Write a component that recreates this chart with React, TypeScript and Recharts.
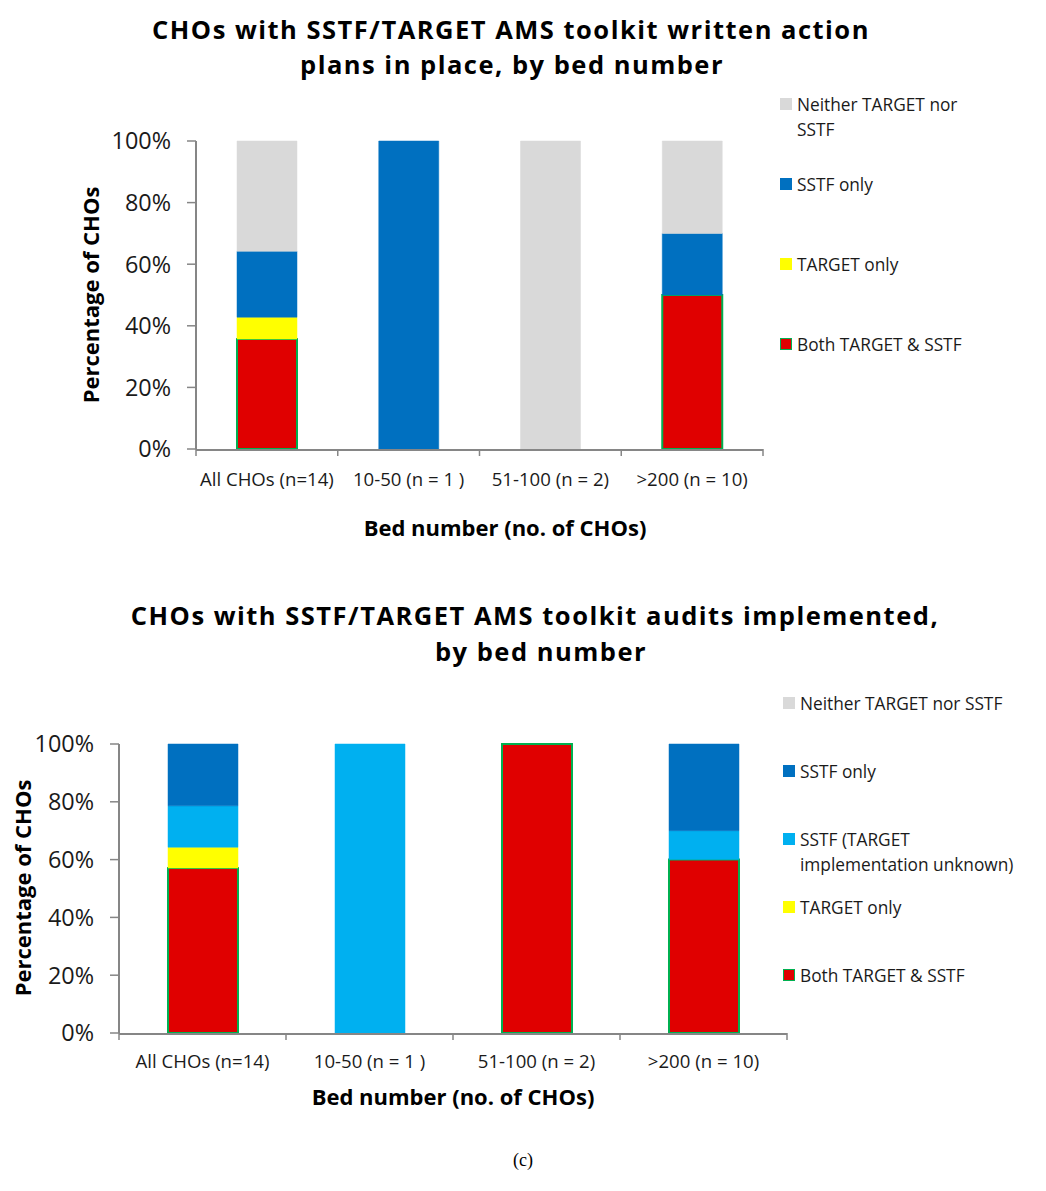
import React from 'react';
import { BarChart, Bar, XAxis, YAxis } from 'recharts';

const categories = ['All CHOs (n=14)', '10-50 (n = 1 )', '51-100 (n = 2)', '>200 (n = 10)'];
const yTicks = [0, 20, 40, 60, 80, 100];
const edgeTicks = [0, 1, 2, 3, 4];

// Chart 1: written action plans
const plansBoth = [35.7, 0, 0, 50];
const plansTargetOnly = [7.1, 0, 0, 0];
const plansSstfOnly = [21.4, 100, 0, 20];
const plansNeither = [35.8, 0, 100, 30];

// Chart 2: audits implemented
const auditsBoth = [57.1, 0, 100, 60];
const auditsTargetOnly = [7.2, 0, 0, 0];
const auditsSstfUnknown = [14.3, 100, 0, 10];
const auditsSstfOnly = [21.4, 0, 0, 30];
const auditsNeither = [0, 0, 0, 0];

const GRAY = '#D9D9D9';
const BLUE = '#0070C0';
const YELLOW = '#FFFF00';
const RED = '#E00000';
const LIGHTBLUE = '#00B0F0';
const GREEN = '#00B050';
const AXIS = '#868686';
const FONT = '"Open Sans", Lato, sans-serif';

type Series = { key: string; name: string; legend: string; color: string; stroke?: string };

const plansSeries: Series[] = [
  { key: 'both', name: 'Both TARGET & SSTF', legend: 'Both TARGET & SSTF', color: RED, stroke: GREEN },
  { key: 'target', name: 'TARGET only', legend: 'TARGET only', color: YELLOW },
  { key: 'sstf', name: 'SSTF only', legend: 'SSTF only', color: BLUE },
  { key: 'neither', name: 'Neither TARGET nor SSTF', legend: 'Neither TARGET nor\nSSTF', color: GRAY },
];

const auditsSeries: Series[] = [
  { key: 'both', name: 'Both TARGET & SSTF', legend: 'Both TARGET & SSTF', color: RED, stroke: GREEN },
  { key: 'target', name: 'TARGET only', legend: 'TARGET only', color: YELLOW },
  { key: 'unknown', name: 'SSTF (TARGET implementation unknown)', legend: 'SSTF (TARGET\nimplementation unknown)', color: LIGHTBLUE },
  { key: 'sstf', name: 'SSTF only', legend: 'SSTF only', color: BLUE },
  { key: 'neither', name: 'Neither TARGET nor SSTF', legend: 'Neither TARGET nor SSTF', color: GRAY },
];

const plansData = categories.map((c, i) => ({
  cat: c,
  idx: i + 0.5,
  both: plansBoth[i],
  target: plansTargetOnly[i],
  sstf: plansSstfOnly[i],
  neither: plansNeither[i],
}));

const auditsData = categories.map((c, i) => ({
  cat: c,
  idx: i + 0.5,
  both: auditsBoth[i],
  target: auditsTargetOnly[i],
  unknown: auditsSstfUnknown[i],
  sstf: auditsSstfOnly[i],
  neither: auditsNeither[i],
}));

type ChartProps = {
  data: any[];
  series: Series[];
  top: number;
  width: number;
  height: number;
  margin: { top: number; right: number; left: number; bottom: number };
  barSize: number;
  tickMargin: number;
};

const EmptyTick = () => <g />;

const StackChart = ({ data, series, top, width, height, margin, barSize, tickMargin }: ChartProps) => (
  <div style={{ position: 'absolute', left: 0, top, width, height }}>
    <BarChart width={width} height={height} data={data} margin={margin}>
      <XAxis
        xAxisId="b_cat"
        dataKey="cat"
        height={40}
        tickLine={false}
        axisLine={{ stroke: AXIS, strokeWidth: 2 }}
        tickMargin={tickMargin}
        interval={0}
        tick={{ fill: '#1a1a1a', fontSize: 18.6, fontFamily: FONT }}
      />
      <XAxis
        xAxisId="a_edge"
        type="number"
        dataKey="idx"
        domain={[0, categories.length]}
        ticks={edgeTicks}
        allowDataOverflow
        height={1}
        tick={EmptyTick}
        axisLine={false}
        tickLine={{ stroke: AXIS, strokeWidth: 1.5 }}
        tickSize={7}
        interval={0}
      />
      <YAxis
        width={60}
        domain={[0, 100]}
        ticks={yTicks}
        tickFormatter={(v: number) => `${v}%`}
        axisLine={{ stroke: AXIS, strokeWidth: 2 }}
        tickLine={{ stroke: AXIS, strokeWidth: 1.5 }}
        tickSize={9}
        tickMargin={16}
        tick={{ fill: '#1a1a1a', fontSize: 23.4, fontFamily: FONT }}
      />
      {series.map((s) => (
        <Bar
          key={s.key}
          xAxisId="b_cat"
          dataKey={s.key}
          name={s.name}
          stackId="a"
          fill={s.color}
          stroke={s.stroke || s.color}
          strokeWidth={s.stroke ? 2 : 0.5}
          barSize={barSize}
          isAnimationActive={false}
        />
      ))}
    </BarChart>
  </div>
);

const LegendBlock = ({ series, left, top, spacing }: { series: Series[]; left: number; top: number; spacing: number }) => {
  const items = [...series].reverse();
  return (
    <div style={{ position: 'absolute', left, top, fontFamily: FONT, fontSize: 17.3, color: '#1a1a1a' }}>
      {items.map((s, i) => (
        <div key={s.key} style={{ position: 'absolute', left: 0, top: i * spacing, display: 'flex', alignItems: 'flex-start', whiteSpace: 'pre' }}>
          <div
            style={{
              width: s.stroke ? 10 : 12,
              height: s.stroke ? 10 : 12,
              marginTop: 6,
              background: s.color,
              border: s.stroke ? `1.5px solid ${s.stroke}` : 'none',
              marginRight: 5,
              flex: 'none',
            }}
          />
          <div style={{ lineHeight: '25px' }}>{s.legend}</div>
        </div>
      ))}
    </div>
  );
};

const Centered = ({ x, y, children, style }: { x: number; y: number; children: React.ReactNode; style?: React.CSSProperties }) => (
  <div style={{ position: 'absolute', left: x, top: y, transform: 'translate(-50%, -50%)', whiteSpace: 'nowrap', ...style }}>
    {children}
  </div>
);

const titleStyle: React.CSSProperties = {
  fontFamily: FONT,
  fontWeight: 700,
  fontSize: 25.5,
  letterSpacing: 1.5,
  color: '#000',
  lineHeight: 1,
};
const axisTitleStyle: React.CSSProperties = { fontFamily: FONT, fontWeight: 700, fontSize: 22, color: '#000', lineHeight: 1 };

export default function App() {
  return (
    <div style={{ position: 'absolute', left: 0, top: 0, width: 1046, height: 1191, background: '#fff', overflow: 'hidden' }}>
      {/* Chart 1 */}
      <Centered x={511} y={30} style={titleStyle}>CHOs with SSTF/TARGET AMS toolkit written action</Centered>
      <Centered x={512} y={65} style={titleStyle}>plans in place, by bed number</Centered>
      <StackChart
        data={plansData}
        series={plansSeries}
        top={0}
        width={1046}
        height={560}
        margin={{ top: 141, right: 283, left: 136, bottom: 70 }}
        barSize={60}
        tickMargin={17}
      />
      <Centered x={90} y={295} style={{ ...axisTitleStyle, transform: 'translate(-50%, -50%) rotate(-90deg)' }}>Percentage of CHOs</Centered>
      <Centered x={505} y={527} style={axisTitleStyle}>Bed number (no. of CHOs)</Centered>
      <LegendBlock series={plansSeries} left={780} top={92} spacing={80} />

      {/* Chart 2 */}
      <Centered x={535} y={616} style={titleStyle}>CHOs with SSTF/TARGET AMS toolkit audits implemented,</Centered>
      <Centered x={541} y={652} style={titleStyle}>by bed number</Centered>
      <StackChart
        data={auditsData}
        series={auditsSeries}
        top={600}
        width={1046}
        height={500}
        margin={{ top: 144, right: 259, left: 59, bottom: 26 }}
        barSize={70}
        tickMargin={15}
      />
      <Centered x={22} y={888} style={{ ...axisTitleStyle, transform: 'translate(-50%, -50%) rotate(-90deg)' }}>Percentage of CHOs</Centered>
      <Centered x={453} y={1096} style={axisTitleStyle}>Bed number (no. of CHOs)</Centered>
      <LegendBlock series={auditsSeries} left={783} top={691} spacing={68} />

      <Centered x={523} y={1160} style={{ fontFamily: '"Liberation Serif", "DejaVu Serif", serif', fontSize: 18, color: '#000' }}>(c)</Centered>
    </div>
  );
}
